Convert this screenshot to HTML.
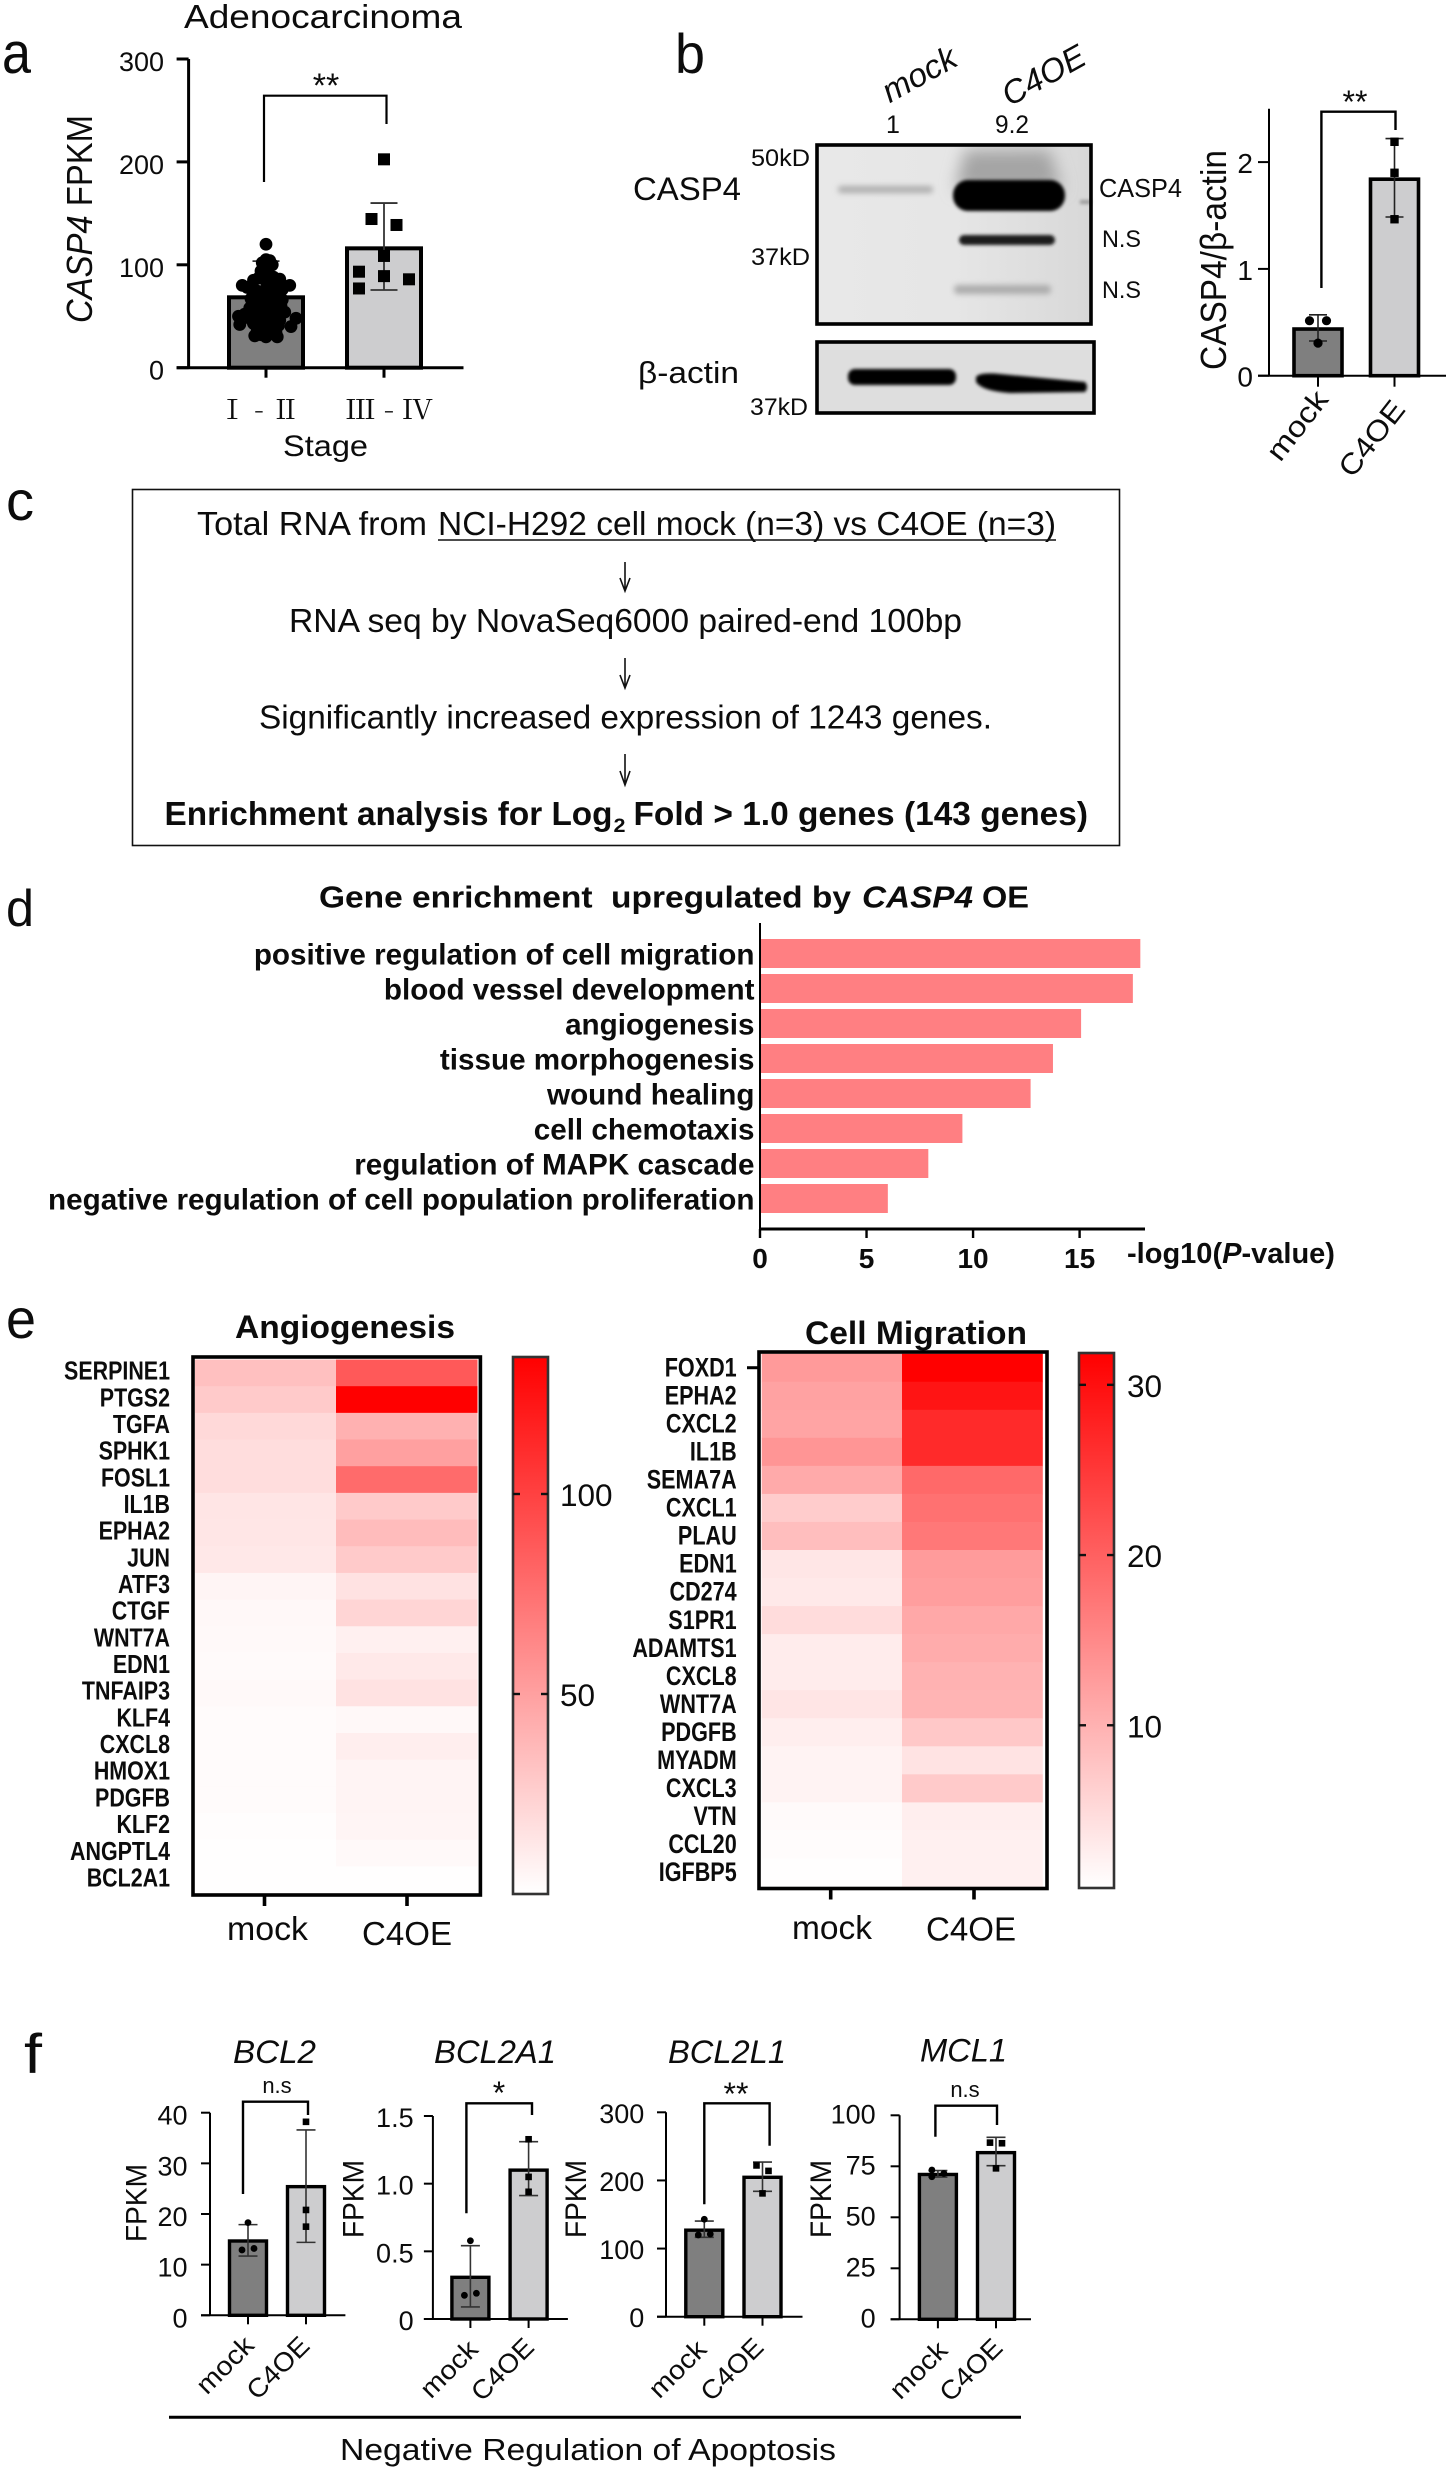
<!DOCTYPE html>
<html lang="en">
<head>
<meta charset="utf-8">
<title>CASP4 multi-panel figure</title>
<style>
html,body{margin:0;padding:0;background:#fff;}
svg{display:block;}
text{font-family:"Liberation Sans","Noto Sans CJK JP",sans-serif;fill:#0c0c0c;}
.b{font-weight:700;}
.i{font-style:italic;}
</style>
</head>
<body>
<svg id="figure" xmlns="http://www.w3.org/2000/svg" width="1450" height="2471" viewBox="0 0 1450 2471">
<defs>
<filter id="blur1" x="-30%" y="-100%" width="160%" height="300%"><feGaussianBlur stdDeviation="1.6"/></filter>
<filter id="blur2" x="-30%" y="-100%" width="160%" height="300%"><feGaussianBlur stdDeviation="3"/></filter>
<filter id="blur3" x="-30%" y="-60%" width="160%" height="220%"><feGaussianBlur stdDeviation="8"/></filter>
<clipPath id="casp4BlotClip"><rect x="817" y="145" width="274" height="179"/></clipPath>
<linearGradient id="blotBg" x1="0" y1="0" x2="1" y2="0">
<stop offset="0" stop-color="#e8e8e8"/><stop offset="0.5" stop-color="#e6e6e6"/><stop offset="1" stop-color="#d8d8d8"/>
</linearGradient>
<linearGradient id="colorbarRamp" x1="0" y1="1" x2="0" y2="0">
<stop offset="0" stop-color="#ffffff"/><stop offset="1" stop-color="#ff0000"/>
</linearGradient>
</defs>

<!-- panel letters -->
<text x="2" y="73" font-size="58" textLength="29" lengthAdjust="spacingAndGlyphs">a</text>
<text x="675" y="73" font-size="56" textLength="30" lengthAdjust="spacingAndGlyphs">b</text>
<text x="6" y="520" font-size="56" textLength="28" lengthAdjust="spacingAndGlyphs">c</text>
<text x="6" y="926" font-size="52" textLength="28" lengthAdjust="spacingAndGlyphs">d</text>
<text x="6" y="1338" font-size="56" textLength="30" lengthAdjust="spacingAndGlyphs">e</text>
<text x="24" y="2073" font-size="56" textLength="18" lengthAdjust="spacingAndGlyphs">f</text>

<!-- panel a static text -->
<text x="184" y="28" font-size="33" textLength="278" lengthAdjust="spacingAndGlyphs">Adenocarcinoma</text>
<text transform="translate(92 219) rotate(-90)" text-anchor="middle" font-size="36" textLength="208" lengthAdjust="spacingAndGlyphs"><tspan class="i">CASP4</tspan> FPKM</text>
<text x="283" y="456" font-size="30" textLength="85" lengthAdjust="spacingAndGlyphs">Stage</text>
<text x="326" y="97" font-size="34" text-anchor="middle">**</text>

<!-- panel b blot labels -->
<text class="i" transform="translate(924.6 84) rotate(-29)" text-anchor="middle" font-size="33" textLength="80" lengthAdjust="spacingAndGlyphs">mock</text>
<text class="i" transform="translate(1049 85) rotate(-29)" text-anchor="middle" font-size="33" textLength="90" lengthAdjust="spacingAndGlyphs">C4OE</text>
<text x="886" y="133" font-size="25">1</text>
<text x="995" y="133" font-size="25" textLength="34" lengthAdjust="spacingAndGlyphs">9.2</text>
<text x="633" y="200" font-size="32" textLength="108" lengthAdjust="spacingAndGlyphs">CASP4</text>
<text x="638" y="383" font-size="31" textLength="101" lengthAdjust="spacingAndGlyphs">β-actin</text>
<text x="751" y="166" font-size="24" textLength="59" lengthAdjust="spacingAndGlyphs">50kD</text>
<text x="751" y="265" font-size="24" textLength="59" lengthAdjust="spacingAndGlyphs">37kD</text>
<text x="750" y="415" font-size="24" textLength="58" lengthAdjust="spacingAndGlyphs">37kD</text>
<text x="1099" y="197" font-size="26" textLength="83" lengthAdjust="spacingAndGlyphs">CASP4</text>
<text x="1102" y="247" font-size="24" textLength="39" lengthAdjust="spacingAndGlyphs">N.S</text>
<text x="1102" y="298" font-size="24" textLength="39" lengthAdjust="spacingAndGlyphs">N.S</text>

<g>
<rect x="817" y="145" width="274" height="179" fill="url(#blotBg)"/>
<g clip-path="url(#casp4BlotClip)">
<path d="M965 150 H1050 L1062 190 H955 Z" fill="#a4a4a4" filter="url(#blur3)"/>
</g>
<rect x="838" y="186" width="95" height="7" rx="3" fill="#aeaeae" filter="url(#blur2)"/>
<rect x="953" y="180" width="112" height="31" rx="15" fill="#000" filter="url(#blur1)"/>
<rect x="959" y="235" width="96" height="10" rx="5" fill="#1e1e1e" filter="url(#blur1)"/>
<rect x="954" y="285" width="97" height="9" rx="4" fill="#acacac" filter="url(#blur2)"/>
<rect x="1080" y="200" width="11" height="4" fill="#9a9a9a" filter="url(#blur1)"/>
<rect x="817" y="145" width="274" height="179" fill="none" stroke="#000" stroke-width="3.6"/>
</g>
<g>
<rect x="817" y="342" width="277" height="71" fill="#dedede"/>
<rect x="848" y="369" width="108" height="16" rx="7" fill="#000" filter="url(#blur1)"/>
<path d="M976 377 Q980 372 1000 374 L1085 382 Q1089 387 1085 392 L1010 393 Q982 391 976 382 Z" fill="#000" filter="url(#blur1)"/>
<rect x="817" y="342" width="277" height="71" fill="none" stroke="#000" stroke-width="3.6"/>
</g>

<text transform="translate(1226 260) rotate(-90)" text-anchor="middle" font-size="36" textLength="220" lengthAdjust="spacingAndGlyphs">CASP4/β-actin</text>
<text x="1355" y="113" font-size="32" text-anchor="middle">**</text>

<!-- panel c flowchart -->
<g>
<rect x="132.5" y="489.5" width="987" height="356" fill="none" stroke="#111" stroke-width="1.6"/>
<text x="197" y="535" font-size="33" textLength="230" lengthAdjust="spacingAndGlyphs">Total RNA from</text>
<text x="438" y="535" font-size="33" textLength="618" lengthAdjust="spacingAndGlyphs">NCI-H292 cell mock (n=3) vs C4OE (n=3)</text>
<line x1="438" y1="540" x2="1056" y2="540" stroke="#111" stroke-width="1.6"/>
<path d="M625 562 V590 M620 578 L625 591 L630 578" fill="none" stroke="#111" stroke-width="1.6"/>
<text x="289" y="632" font-size="33" textLength="673" lengthAdjust="spacingAndGlyphs">RNA seq by NovaSeq6000 paired-end 100bp</text>
<path d="M625 658 V687 M620 675 L625 688 L630 675" fill="none" stroke="#111" stroke-width="1.6"/>
<text x="259" y="728.5" font-size="33" textLength="733" lengthAdjust="spacingAndGlyphs">Significantly increased expression of 1243 genes.</text>
<path d="M625 754 V784 M620 771 L625 785 L630 771" fill="none" stroke="#111" stroke-width="1.6"/>
<text class="b" x="164.5" y="825" font-size="33" textLength="448" lengthAdjust="spacingAndGlyphs">Enrichment analysis for Log</text>
<text class="b" x="613.5" y="832" font-size="19" textLength="12" lengthAdjust="spacingAndGlyphs">2</text>
<text class="b" x="633.5" y="825" font-size="33" textLength="454.5" lengthAdjust="spacingAndGlyphs">Fold &gt; 1.0 genes (143 genes)</text>
</g>

<!-- panel d static text -->
<text class="b" x="319" y="907.5" font-size="31" textLength="532" lengthAdjust="spacingAndGlyphs">Gene enrichment&#160; upregulated by</text>
<text class="b i" x="862" y="907.5" font-size="31" textLength="111" lengthAdjust="spacingAndGlyphs">CASP4</text>
<text class="b" x="982" y="907.5" font-size="31" textLength="47" lengthAdjust="spacingAndGlyphs">OE</text>
<text class="b" x="1127" y="1263" font-size="29" textLength="208" lengthAdjust="spacingAndGlyphs">-log10(<tspan class="i">P</tspan>-value)</text>

<!-- panel e static text -->
<text class="b" x="235" y="1338" font-size="32" textLength="220" lengthAdjust="spacingAndGlyphs">Angiogenesis</text>
<text class="b" x="805" y="1344" font-size="32" textLength="222" lengthAdjust="spacingAndGlyphs">Cell Migration</text>

<!-- panel f static text -->
<text class="i" x="233" y="2063" font-size="32" textLength="83" lengthAdjust="spacingAndGlyphs">BCL2</text>
<text class="i" x="434" y="2063" font-size="32" textLength="122" lengthAdjust="spacingAndGlyphs">BCL2A1</text>
<text class="i" x="668" y="2063" font-size="32" textLength="118" lengthAdjust="spacingAndGlyphs">BCL2L1</text>
<text class="i" x="920" y="2061.5" font-size="32" textLength="87" lengthAdjust="spacingAndGlyphs">MCL1</text>
<text transform="translate(146.4 2203) rotate(-90)" text-anchor="middle" font-size="29.5" textLength="78" lengthAdjust="spacingAndGlyphs">FPKM</text>
<text transform="translate(363.6 2199) rotate(-90)" text-anchor="middle" font-size="29.5" textLength="78" lengthAdjust="spacingAndGlyphs">FPKM</text>
<text transform="translate(586 2199) rotate(-90)" text-anchor="middle" font-size="29.5" textLength="78" lengthAdjust="spacingAndGlyphs">FPKM</text>
<text transform="translate(831 2199) rotate(-90)" text-anchor="middle" font-size="29.5" textLength="78" lengthAdjust="spacingAndGlyphs">FPKM</text>
<text x="277" y="2093" font-size="22" text-anchor="middle">n.s</text>
<text x="499" y="2104" font-size="32" text-anchor="middle">*</text>
<text x="736" y="2105" font-size="32" text-anchor="middle">**</text>
<text x="965" y="2097" font-size="22" text-anchor="middle">n.s</text>
<line x1="169" y1="2417.3" x2="1021" y2="2417.3" stroke="#000" stroke-width="3"/>
<text x="340" y="2460" font-size="31" textLength="496" lengthAdjust="spacingAndGlyphs">Negative Regulation of Apoptosis</text>
</svg>

<script>
// ---------- panel a data ----------
const stageCategories = ['Ⅰ - Ⅱ', 'Ⅲ - Ⅳ'];
const stageTicks = [0, 100, 200, 300];
const stageMeans = [68.4, 116];
const stageErrHigh = [103.6, 160];
const stageErrLow = [33, 75.5];
const stageEarlyValues = [120,105,104,102,100,98,96,94,92,88,87,86,85,84,83,80,80,78,76,75,74,72,70,70,68,66,65,62,60,60,58,56,55,54,52,50,50,48,47,46,45,44,42,40,38,36,34,32,31,30,30,74,73,67,66,66,59,58,58,57,51,51,50,49,43,43,42,41,36,35];
const stageEarlyJitter = [0,0,.3,-.3,.5,-.2,0,-.4,.1,.6,-.6,1.1,-1,0,.6,-1.9,1.9,-1.5,1.3,-.8,.8,-1,1,0,.4,-.5,.9,-.9,.2,1.2,-1.3,-.3,.7,1.5,-1.7,.1,-2.2,2.4,-1.2,1.1,.5,-.5,-2.1,2,0,-.7,.8,-.4,-.9,.9,0,-.35,.35,-1.2,.2,1.3,-1,-.4,.35,1,-1,-.35,.4,1,-1,-.3,.4,1,-.3,.4];
const stageLateValues = [202.5,144.5,138.7,108.6,93.3,89,85.9,77];
const stageLateJitter = [0,-1,1,0,-2,0,2,-2];

// ---------- shared group names ----------
const treatmentCategories = ['mock', 'C4OE'];
const tripletJitter = [0, -1, 1];

// ---------- panel b bar data ----------
const casp4Ticks = [0, 1, 2];
const casp4Means = [0.437, 1.84];
const casp4ErrHigh = [0.57, 2.22];
const casp4ErrLow = [0.325, 1.486];
const casp4MockValues = [0.305, 0.515, 0.515];
const casp4MockJitter = [0, -1, 1];
const casp4OeValues = [2.19, 1.90, 1.465];
const casp4OeJitter = [0, 0, 0];

// ---------- panel d data ----------
const enrichmentTerms = ['positive regulation of cell migration','blood vessel development','angiogenesis','tissue morphogenesis','wound healing','cell chemotaxis','regulation of MAPK cascade','negative regulation of cell population proliferation'];
const enrichmentValues = [17.85, 17.5, 15.07, 13.75, 12.7, 9.5, 7.9, 6.0];
const enrichmentTicks = [0, 5, 10, 15];

// ---------- panel e data ----------
const angioGenes = ['SERPINE1','PTGS2','TGFA','SPHK1','FOSL1','IL1B','EPHA2','JUN','ATF3','CTGF','WNT7A','EDN1','TNFAIP3','KLF4','CXCL8','HMOX1','PDGFB','KLF2','ANGPTL4','BCL2A1'];
const angioMock = [33,28,20,18,18,13.5,13,12,5,3.5,3,2.5,3,2,2,2,2,0.8,0.7,0.5];
const angioOe = [87,134,41,50,78,28,35,28,15,22,8,11.5,15,3.5,9,6,6,5.5,3,0.5];
const angioScaleTicks = [50, 100];
const migrationGenes = ['FOXD1','EPHA2','CXCL2','IL1B','SEMA7A','CXCL1','PLAU','EDN1','CD274','S1PR1','ADAMTS1','CXCL8','WNT7A','PDGFB','MYADM','CXCL3','VTN','CCL20','IGFBP5'];
const migrationMock = [13,12,11.7,13.6,11,6.8,8.5,3.6,3.2,4.8,2.9,2.8,3.7,2.6,2,2,1.1,0.9,0.6];
const migrationOe = [32,29.5,26.8,26.8,19,18,17.2,12.8,12.5,11.2,10.7,10,9.8,7.3,4,7.1,2.6,2.4,2.4];
const migrationScaleTicks = [10, 20, 30];

// ---------- panel f data ----------
const bcl2Ticks = [0, 10, 20, 30, 40];
const bcl2Means = [14.67, 25.4];
const bcl2ErrHigh = [17.9, 36.6];
const bcl2ErrLow = [11.7, 14.4];
const bcl2MockValues = [18.3, 12.9, 13.2];
const bcl2OeValues = [38.2, 20.8, 17.5];

const bcl2a1Ticks = [0, 0.5, 1.0, 1.5];
const bcl2a1TickLabels = ['0', '0.5', '1.0', '1.5'];
const bcl2a1Means = [0.308, 1.10];
const bcl2a1ErrHigh = [0.542, 1.31];
const bcl2a1ErrLow = [0.089, 0.912];
const bcl2a1MockValues = [0.578, 0.175, 0.19];
const bcl2a1OeValues = [1.328, 1.05, 0.94];

const bcl2l1Ticks = [0, 100, 200, 300];
const bcl2l1Means = [127, 204.6];
const bcl2l1ErrHigh = [140.4, 227];
const bcl2l1ErrLow = [116.5, 184];
const bcl2l1MockValues = [143, 120, 121.4];
const bcl2l1OeValues = [222, 214, 181];
const bcl2l1OeJitter = [-1, 1, 0];

const mcl1Ticks = [0, 25, 50, 75, 100];
const mcl1Means = [71, 81.7];
const mcl1ErrHigh = [72.9, 89.2];
const mcl1ErrLow = [69.7, 75.3];
const mcl1MockValues = [73.2, 69.9, 71.5];
const mcl1MockJitter = [-1, -1, 1];
const mcl1OeValues = [86.6, 86.3, 74];
const mcl1OeJitter = [-1, 1, 0];

// ---------- helpers ----------
const SVG_NS = 'http://www.w3.org/2000/svg';
const figure = document.getElementById('figure');

function mk(tag, parent, name, attrs, content) {
  const el = document.createElementNS(SVG_NS, tag);
  
  
  Object.keys(attrs).forEach(function (k) { el.setAttribute(k, attrs[k]); });
  if (content !== undefined) el.textContent = content;
  parent.appendChild(el);
  return el;
}

function linear(d0, d1, r0, r1) {
  return function (v) { return r0 + (v - d0) * (r1 - r0) / (d1 - d0); };
}

// ---------- bar + scatter panel ----------
function drawBarChart(c) {
  const g = mk('g', figure, c.id + '-bar-chart', {});
  const y = linear(0, c.yMax, c.y0, c.yTop);
  const x = linear(0, 1, c.cx0, c.cx1);

  mk('line', g, c.id + '-y-axis', { x1: c.axisX, x2: c.axisX, y1: y(c.yMax) - (c.axisTopExtra || 0), y2: c.y0, stroke: '#000', 'stroke-width': c.axisW });
  mk('line', g, c.id + '-x-axis', { x1: c.axisX - c.tickLen, x2: c.axisEnd, y1: c.y0, y2: c.y0, stroke: '#000', 'stroke-width': c.axisW });

  c.ticks.forEach(function (t, i) {
    mk('line', g, c.id + '-y-tick', { x1: c.axisX - c.tickLen, x2: c.axisX, y1: y(t), y2: y(t), stroke: '#000', 'stroke-width': c.axisW });
    const label = c.tickLabels ? c.tickLabels[i] : String(t);
    mk('text', g, c.id + '-y-tick-label', { x: c.labelRight, y: y(t) + c.labelDy, 'text-anchor': 'end', 'font-size': c.labelSize }, label);
  });

  c.categories.forEach(function (cat, i) {
    mk('line', g, c.id + '-x-tick', { x1: x(i), x2: x(i), y1: c.y0, y2: c.y0 + c.xTickLen, stroke: '#000', 'stroke-width': c.axisW });
    if (c.catRotate) {
      const t = mk('text', g, c.id + '-x-label', {
        transform: 'translate(' + c.catCx[i] + ' ' + c.catCy[i] + ') rotate(' + c.catRotate + ')',
        'text-anchor': 'middle', y: c.catSize * 0.28, 'font-size': c.catSize,
        textLength: c.catLen[i], lengthAdjust: 'spacingAndGlyphs'
      }, cat);
      t.setAttribute('x', 0);
    } else {
      const t = mk('text', g, c.id + '-x-label', {
        x: c.catX[i], y: c.catBaseline, 'font-size': c.catSize,
        textLength: c.catLen[i], lengthAdjust: 'spacingAndGlyphs'
      }, cat);
      t.style.fontFamily = '"Noto Serif CJK SC","Liberation Serif",serif';
    }
  });

  c.means.forEach(function (m, i) {
    const half = c.barW / 2;
    mk('rect', g, c.id + '-bar-' + i, {
      x: x(i) - half, y: y(m), width: c.barW, height: c.y0 - y(m),
      fill: i === 0 ? '#7f7f7f' : '#cdcdcf', stroke: '#000', 'stroke-width': c.barStroke
    });
  });

  c.means.forEach(function (m, i) {
    const hi = y(c.errHigh[i]);
    const lo = y(c.errLow[i]);
    const col = c.errColor;
    mk('line', g, c.id + '-error-stem-' + i, { x1: x(i), x2: x(i), y1: hi, y2: lo, stroke: col, 'stroke-width': c.errW });
    mk('line', g, c.id + '-error-cap-high-' + i, { x1: x(i) - c.capW, x2: x(i) + c.capW, y1: hi, y2: hi, stroke: col, 'stroke-width': c.errW });
    mk('line', g, c.id + '-error-cap-low-' + i, { x1: x(i) - c.capW, x2: x(i) + c.capW, y1: lo, y2: lo, stroke: col, 'stroke-width': c.errW });
  });

  c.points[0].forEach(function (v, k) {
    const j = c.jitter[0] ? c.jitter[0][k] : 0;
    mk('circle', g, c.id + '-point-circle', { cx: x(0) + j * c.spread, cy: y(v), r: c.pointR, fill: '#000' });
  });
  c.points[1].forEach(function (v, k) {
    const j = c.jitter[1] ? c.jitter[1][k] : 0;
    mk('rect', g, c.id + '-point-square', { x: x(1) + j * c.spread - c.pointS / 2, y: y(v) - c.pointS / 2, width: c.pointS, height: c.pointS, fill: '#000' });
  });

  const b = c.bracket;
  mk('path', g, c.id + '-significance-bracket', {
    d: 'M' + b[0] + ' ' + b[3] + ' V' + b[2] + ' H' + b[1] + ' V' + b[4],
    fill: 'none', stroke: '#000', 'stroke-width': c.bracketW
  });
}

const fCommon = {
  axisW: 2, tickLen: 9, xTickLen: 9, barW: 37, barStroke: 3.4, errW: 1.6, errColor: '#333', capW: 9.5,
  pointR: 3.4, pointS: 6.6, spread: 6, bracketW: 2.4, labelSize: 27, labelDy: 11,
  categories: treatmentCategories, catRotate: -45, catSize: 26.5, catLen: [69, 76]
};

drawBarChart({
  id: 'stage', yMax: 300, y0: 367.7, yTop: 59, axisX: 188.6, axisEnd: 463.5, axisW: 3,
  tickLen: 12, xTickLen: 10, cx0: 266, cx1: 384, barW: 74, barStroke: 4, errW: 1.8, errColor: '#333', capW: 13.5,
  pointR: 6.4, pointS: 12, spread: 12.5, bracketW: 2.2, labelSize: 27, labelDy: 12, labelRight: 164,
  ticks: stageTicks, categories: stageCategories, catSize: 27, catX: [218, 345], catLen: [82, 88], catBaseline: 419,
  means: stageMeans, errHigh: stageErrHigh, errLow: stageErrLow,
  points: [stageEarlyValues, stageLateValues], jitter: [stageEarlyJitter, stageLateJitter],
  bracket: [264, 386.5, 95.7, 182, 124]
});

drawBarChart({
  id: 'casp4-ratio', yMax: 2.5, y0: 375.7, yTop: 108.7, axisX: 1269, axisEnd: 1446, axisW: 2,
  tickLen: 11, xTickLen: 11, cx0: 1318, cx1: 1394.5, barW: 48, barStroke: 3.6, errW: 1.6, errColor: '#222', capW: 9,
  pointR: 4.6, pointS: 8.4, spread: 8.5, bracketW: 2.4, labelSize: 28, labelDy: 11, labelRight: 1253,
  ticks: casp4Ticks, categories: treatmentCategories, catRotate: -52, catSize: 29,
  catLen: [80, 88], catCx: [1298.5, 1373], catCy: [426.5, 439.5],
  means: casp4Means, errHigh: casp4ErrHigh, errLow: casp4ErrLow,
  points: [casp4MockValues, casp4OeValues], jitter: [casp4MockJitter, casp4OeJitter],
  bracket: [1321.4, 1395.5, 111.7, 288, 130]
});

drawBarChart(Object.assign({}, fCommon, {
  id: 'bcl2', yMax: 40, y0: 2315.3, yTop: 2112.7, axisX: 210, axisEnd: 345.4, cx0: 248, cx1: 306,
  labelRight: 187.5, labelDy: 12, ticks: bcl2Ticks,
  catCx: [226, 279], catCy: [2366, 2369],
  means: bcl2Means, errHigh: bcl2ErrHigh, errLow: bcl2ErrLow,
  points: [bcl2MockValues, bcl2OeValues], jitter: [tripletJitter, null],
  bracket: [243, 308, 2101.7, 2194, 2115]
}));

drawBarChart(Object.assign({}, fCommon, {
  id: 'bcl2a1', yMax: 1.5, y0: 2319, yTop: 2116, axisX: 432.9, axisEnd: 567.9, cx0: 470.4, cx1: 528.6,
  labelRight: 413.6, labelDy: 11, ticks: bcl2a1Ticks, tickLabels: bcl2a1TickLabels,
  catCx: [450, 503.5], catCy: [2370, 2370.5],
  means: bcl2a1Means, errHigh: bcl2a1ErrHigh, errLow: bcl2a1ErrLow,
  points: [bcl2a1MockValues, bcl2a1OeValues], jitter: [tripletJitter, null],
  bracket: [466.4, 532, 2103.3, 2213.3, 2115]
}));

drawBarChart(Object.assign({}, fCommon, {
  id: 'bcl2l1', yMax: 300, y0: 2316.7, yTop: 2112.3, axisX: 666, axisEnd: 802.5, cx0: 704.3, cx1: 762.5,
  labelRight: 644.3, labelDy: 10.5, ticks: bcl2l1Ticks,
  catCx: [678.5, 733], catCy: [2370, 2370.5],
  means: bcl2l1Means, errHigh: bcl2l1ErrHigh, errLow: bcl2l1ErrLow,
  points: [bcl2l1MockValues, bcl2l1OeValues], jitter: [tripletJitter, bcl2l1OeJitter],
  bracket: [704.3, 769.6, 2103.3, 2204.3, 2145.7]
}));

drawBarChart(Object.assign({}, fCommon, {
  id: 'mcl1', yMax: 100, y0: 2319.3, yTop: 2115.3, axisX: 899.6, axisEnd: 1031, cx0: 937.9, cx1: 996,
  labelRight: 875.7, labelDy: 8, ticks: mcl1Ticks,
  catCx: [919.5, 972], catCy: [2371, 2371],
  means: mcl1Means, errHigh: mcl1ErrHigh, errLow: mcl1ErrLow,
  points: [mcl1MockValues, mcl1OeValues], jitter: [mcl1MockJitter, mcl1OeJitter],
  bracket: [935.4, 997, 2105.7, 2136.7, 2125]
}));

// ---------- enrichment bars ----------
(function drawEnrichment() {
  const g = mk('g', figure, 'enrichment-bar-chart', {});
  const x = linear(0, 15, 760, 1079.6);
  const rowY = linear(0, 1, 939, 974);
  enrichmentValues.forEach(function (v, i) {
    mk('rect', g, 'enrichment-bar', { x: x(0), y: rowY(i), width: x(v) - x(0), height: 29, fill: '#ff7f82' });
    mk('text', g, 'enrichment-term-label', { class: 'b', x: 754.5, y: rowY(i) + 25.5, 'text-anchor': 'end', 'font-size': 29.65 }, enrichmentTerms[i]);
  });
  mk('line', g, 'enrichment-y-axis', { x1: 760, x2: 760, y1: 923, y2: 1229, stroke: '#000', 'stroke-width': 2 });
  mk('line', g, 'enrichment-x-axis', { x1: 759, x2: 1145, y1: 1229, y2: 1229, stroke: '#000', 'stroke-width': 3 });
  enrichmentTicks.forEach(function (t) {
    mk('line', g, 'enrichment-x-tick', { x1: x(t), x2: x(t), y1: 1229, y2: 1238, stroke: '#000', 'stroke-width': 2.4 });
    mk('text', g, 'enrichment-x-tick-label', { class: 'b', x: x(t), y: 1268, 'text-anchor': 'middle', 'font-size': 28 }, String(t));
  });
})();

// ---------- heatmaps ----------
function drawHeatmap(c) {
  const g = mk('g', figure, c.id + '-heatmap', {});
  const rowY = linear(0, c.genes.length, c.top, c.bottom);
  const columnX = linear(0, 1, c.left, c.mid);
  const tone = linear(c.min, c.max, 0, 1);
  const colour = function (v) {
    const t = Math.max(0, Math.min(1, tone(v)));
    const ch = Math.round(255 * (1 - t));
    return 'rgb(255,' + ch + ',' + ch + ')';
  };
  [c.mock, c.oe].forEach(function (series, col) {
    series.forEach(function (v, r) {
      mk('rect', g, c.id + '-cell', {
        x: columnX(col), y: rowY(r), width: columnX(1) - columnX(0) + 0.5, height: rowY(1) - rowY(0) + 0.5,
        fill: colour(v)
      });
    });
  });
  c.genes.forEach(function (name, r) {
    const lab = mk('text', g, c.id + '-gene-label', {
      class: 'b', 'text-anchor': 'end', 'font-size': c.geneSize,
      transform: 'translate(' + c.geneRight + ' ' + (c.geneBase + r * (rowY(1) - rowY(0))) + ') scale(' + c.geneStretch + ' 1)'
    }, name);
    lab.setAttribute('x', 0);
  });
  mk('rect', g, c.id + '-frame', { x: c.box[0], y: c.box[1], width: c.box[2] - c.box[0], height: c.box[3] - c.box[1], fill: 'none', stroke: '#000', 'stroke-width': 3.6 });
  c.xTicks.forEach(function (tx) {
    mk('line', g, c.id + '-x-tick', { x1: tx, x2: tx, y1: c.box[3], y2: c.box[3] + 11, stroke: '#000', 'stroke-width': 3.6 });
  });
  if (c.firstTick) {
    mk('line', g, c.id + '-first-row-tick', { x1: c.box[0] - 12, x2: c.box[0], y1: rowY(0.5), y2: rowY(0.5), stroke: '#000', 'stroke-width': 3 });
  }
  treatmentCategories.forEach(function (cat, i) {
    mk('text', g, c.id + '-x-label', {
      x: c.catX[i], y: c.catBase[i], 'font-size': 33.5,
      textLength: c.catLen[i], lengthAdjust: 'spacingAndGlyphs'
    }, cat);
  });
  const barY = linear(c.barMin, c.barMax, c.barBox[3], c.barBox[1]);
  mk('rect', g, c.id + '-colorbar', {
    x: c.barBox[0], y: c.barBox[1], width: c.barBox[2] - c.barBox[0], height: c.barBox[3] - c.barBox[1],
    fill: 'url(#colorbarRamp)', stroke: '#333', 'stroke-width': 2.6
  });
  c.scaleTicks.forEach(function (t) {
    mk('line', g, c.id + '-colorbar-tick-left', { x1: c.barBox[0], x2: c.barBox[0] + 7, y1: barY(t), y2: barY(t), stroke: '#111', 'stroke-width': 2.4 });
    mk('line', g, c.id + '-colorbar-tick-right', { x1: c.barBox[2] - 7, x2: c.barBox[2], y1: barY(t), y2: barY(t), stroke: '#111', 'stroke-width': 2.4 });
    mk('text', g, c.id + '-colorbar-label', { x: c.scaleLabelX, y: barY(t) + 12, 'font-size': 31.5 }, String(t));
  });
}

drawHeatmap({
  id: 'angiogenesis', genes: angioGenes, mock: angioMock, oe: angioOe, min: 0, max: 134,
  top: 1359.5, bottom: 1893, left: 195, mid: 336,
  box: [193, 1357, 480.4, 1895], xTicks: [264.5, 407],
  geneRight: 170, geneBase: 1379.6, geneSize: 26, geneStretch: 0.824,
  catX: [227, 362], catBase: [1940, 1945], catLen: [81, 90],
  barBox: [513, 1357, 548, 1894], barMin: 0, barMax: 134.25, scaleTicks: angioScaleTicks, scaleLabelX: 560
});

drawHeatmap({
  id: 'cell-migration', genes: migrationGenes, mock: migrationMock, oe: migrationOe, min: 0.5, max: 32,
  top: 1353.7, bottom: 1886.5, left: 761.7, mid: 902,
  box: [759, 1352, 1047, 1888.5], xTicks: [830.7, 974], firstTick: true,
  geneRight: 736.7, geneBase: 1376.4, geneSize: 27, geneStretch: 0.8,
  catX: [792, 926], catBase: [1939, 1940.7], catLen: [80, 90],
  barBox: [1079, 1353, 1114, 1888], barMin: 0.44, barMax: 31.87, scaleTicks: migrationScaleTicks, scaleLabelX: 1127
});
</script>
</body>
</html>
